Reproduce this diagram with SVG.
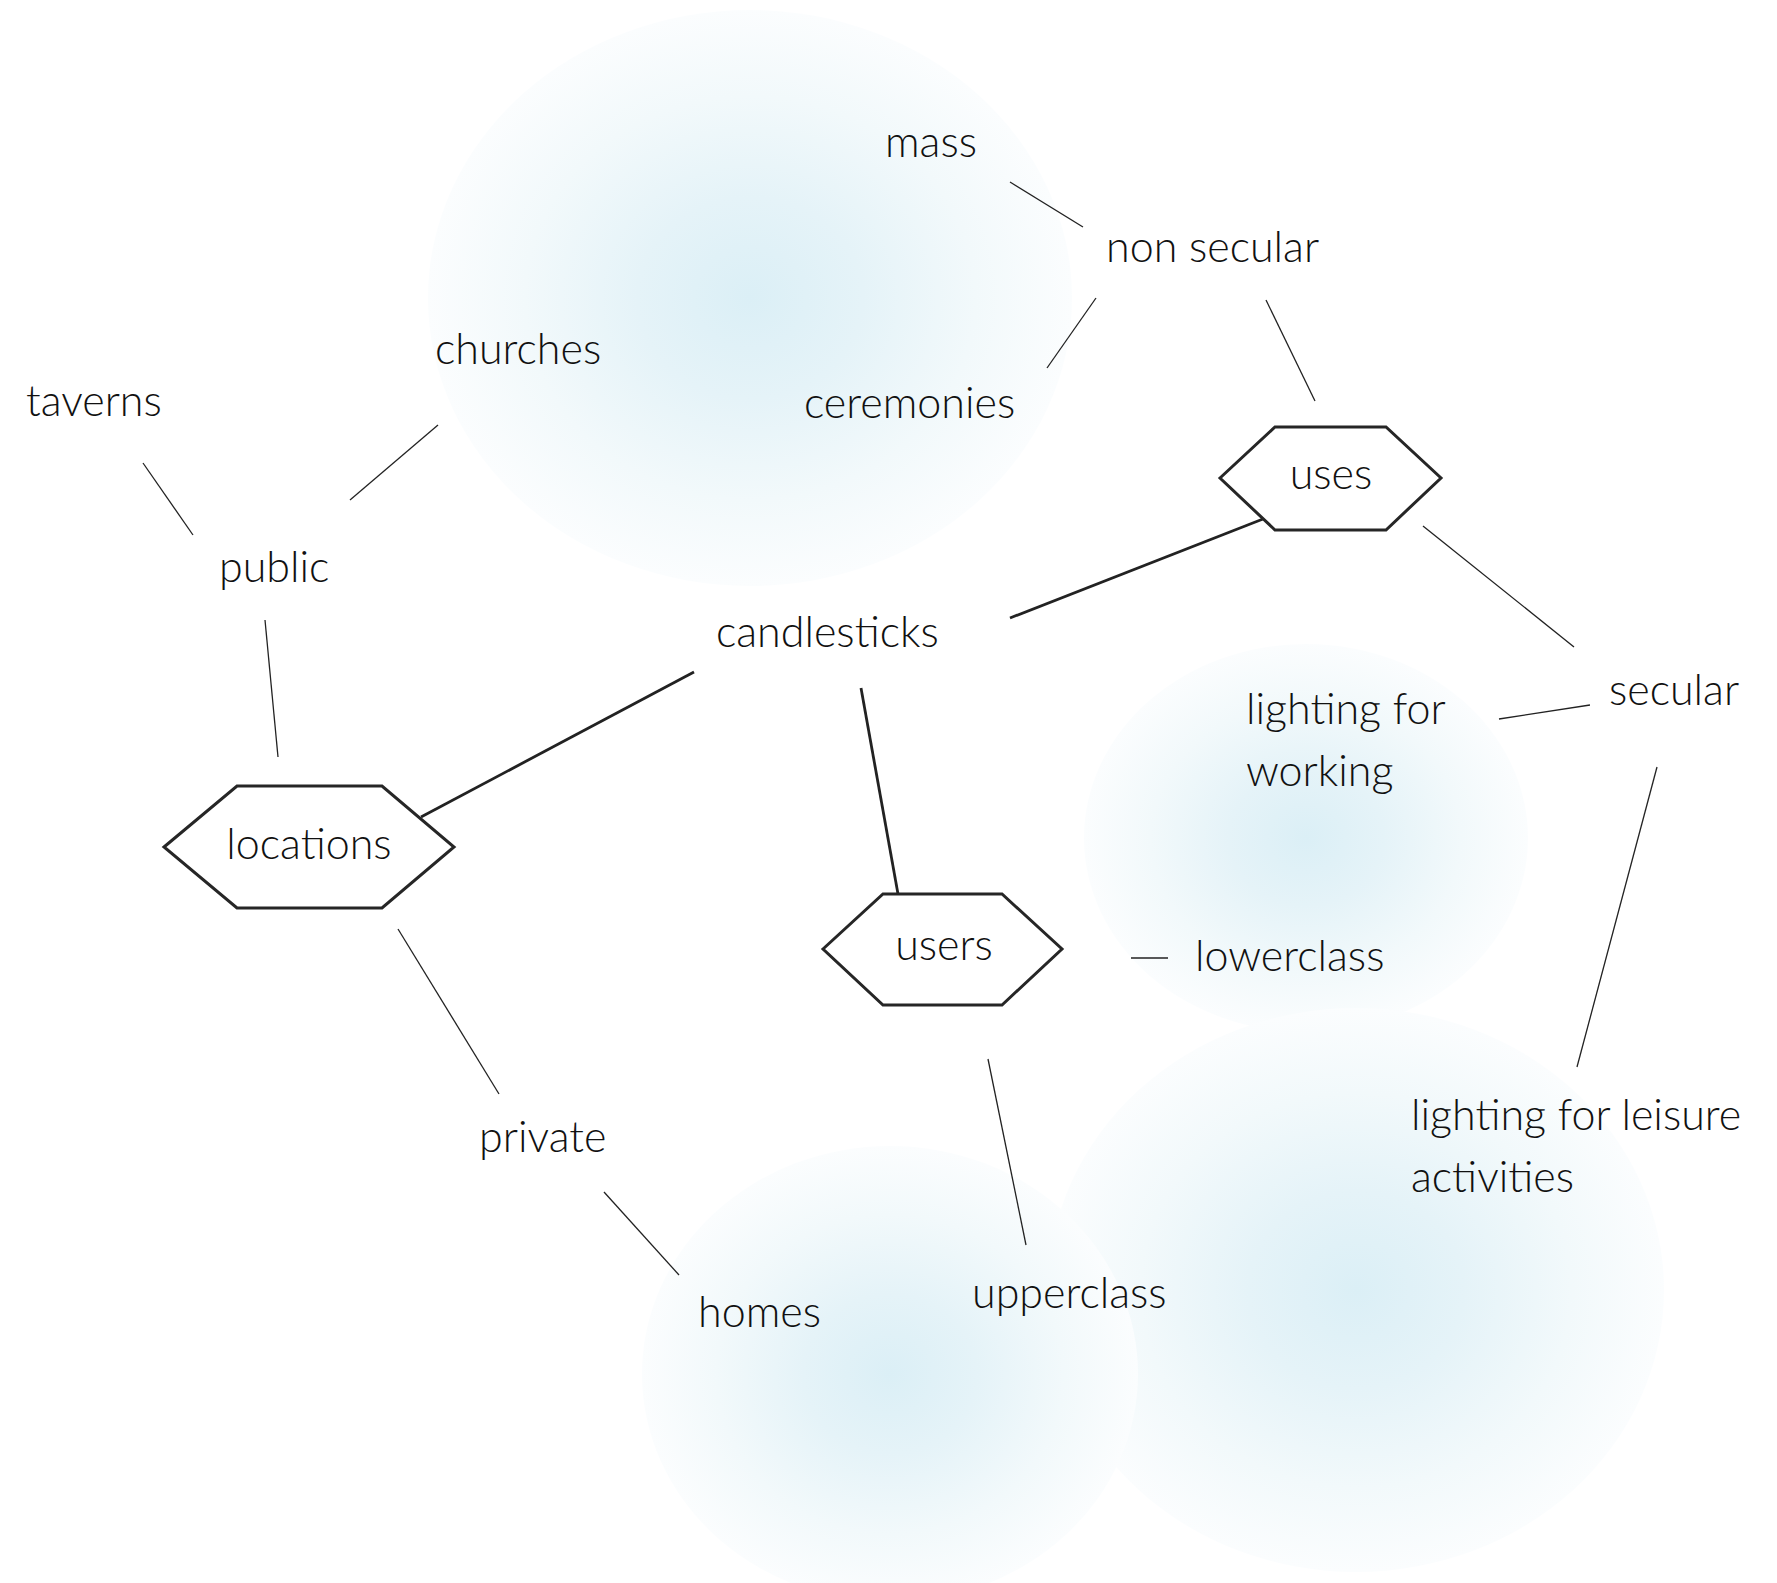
<svg xmlns="http://www.w3.org/2000/svg" width="1777" height="1583" viewBox="0 0 1777 1583">
<style>
text{font-family:Lato,"Open Sans","Liberation Sans",sans-serif;font-weight:300;font-size:43px;fill:#111}
.c{text-anchor:middle}
.thin{stroke:#222;stroke-width:1.3;fill:none}
.thick{stroke:#222;stroke-width:2.8;fill:none}
.hex{fill:#fff;stroke:#262626;stroke-width:3}
</style>
<defs>
<radialGradient id="blob">
<stop offset="0" stop-color="#dbeff6"/>
<stop offset="0.35" stop-color="#e5f3f8"/>
<stop offset="0.7" stop-color="#f2f9fb"/>
<stop offset="1" stop-color="#fbfdfe"/>
</radialGradient>
</defs>
<rect width="1777" height="1583" fill="#fff"/>
<g id="blobs">
<ellipse cx="750" cy="298" rx="322" ry="288" fill="url(#blob)"/>
<ellipse cx="1306" cy="838" rx="222" ry="194" fill="url(#blob)"/>
<ellipse cx="1356" cy="1290" rx="308" ry="282" fill="url(#blob)"/>
<ellipse cx="890" cy="1374" rx="248" ry="228" fill="url(#blob)"/>
</g>
<g id="connectors">
<line class="thin" x1="1010" y1="182" x2="1083" y2="227"/>
<line class="thin" x1="1096" y1="298" x2="1047" y2="368"/>
<line class="thin" x1="1266" y1="300" x2="1315" y2="401"/>
<line class="thick" x1="1010" y1="618" x2="1263" y2="519"/>
<line class="thin" x1="1423" y1="526" x2="1574" y2="647"/>
<line class="thin" x1="1499" y1="719" x2="1590" y2="705"/>
<line class="thin" x1="1657" y1="767" x2="1577" y2="1067"/>
<line class="thick" x1="694" y1="672" x2="421" y2="817"/>
<line class="thick" x1="861" y1="688" x2="898" y2="894"/>
<line class="thin" x1="1131" y1="958" x2="1168" y2="958"/>
<line class="thin" x1="988" y1="1059" x2="1026" y2="1245"/>
<line class="thin" x1="143" y1="463" x2="193" y2="535"/>
<line class="thin" x1="350" y1="500" x2="438" y2="425"/>
<line class="thin" x1="265" y1="620" x2="278" y2="757"/>
<line class="thin" x1="398" y1="929" x2="499" y2="1094"/>
<line class="thin" x1="604" y1="1192" x2="679" y2="1275"/>
</g>
<g id="n-uses">
<polygon class="hex" points="1220,478 1275,427 1386,427 1441,478 1386,530 1275,530"/>
<text class="c" x="1331" y="489">uses</text>
</g>
<g id="n-locations">
<polygon class="hex" points="164,847 237,786 382,786 454,847 382,908 237,908"/>
<text class="c" x="309" y="859">locations</text>
</g>
<g id="n-users">
<polygon class="hex" points="823,949 883,894 1002,894 1062,949 1002,1005 883,1005"/>
<text class="c" x="944" y="960">users</text>
</g>
<g id="n-mass"><text x="885" y="157">mass</text></g>
<g id="n-nonsecular"><text x="1106" y="262">non secular</text></g>
<g id="n-ceremonies"><text x="804" y="418">ceremonies</text></g>
<g id="n-churches"><text x="435" y="364">churches</text></g>
<g id="n-taverns"><text x="26" y="416">taverns</text></g>
<g id="n-public"><text x="219" y="582">public</text></g>
<g id="n-candlesticks"><text x="716" y="647">candlesticks</text></g>
<g id="n-secular"><text x="1609" y="705">secular</text></g>
<g id="n-working"><text x="1246" y="724">lighting for</text><text x="1246" y="786">working</text></g>
<g id="n-lowerclass"><text x="1195" y="971">lowerclass</text></g>
<g id="n-leisure"><text x="1411" y="1130">lighting for leisure</text><text x="1411" y="1192">activities</text></g>
<g id="n-private"><text x="479" y="1152">private</text></g>
<g id="n-homes"><text x="698" y="1327">homes</text></g>
<g id="n-upperclass"><text x="972" y="1308">upperclass</text></g>
</svg>
